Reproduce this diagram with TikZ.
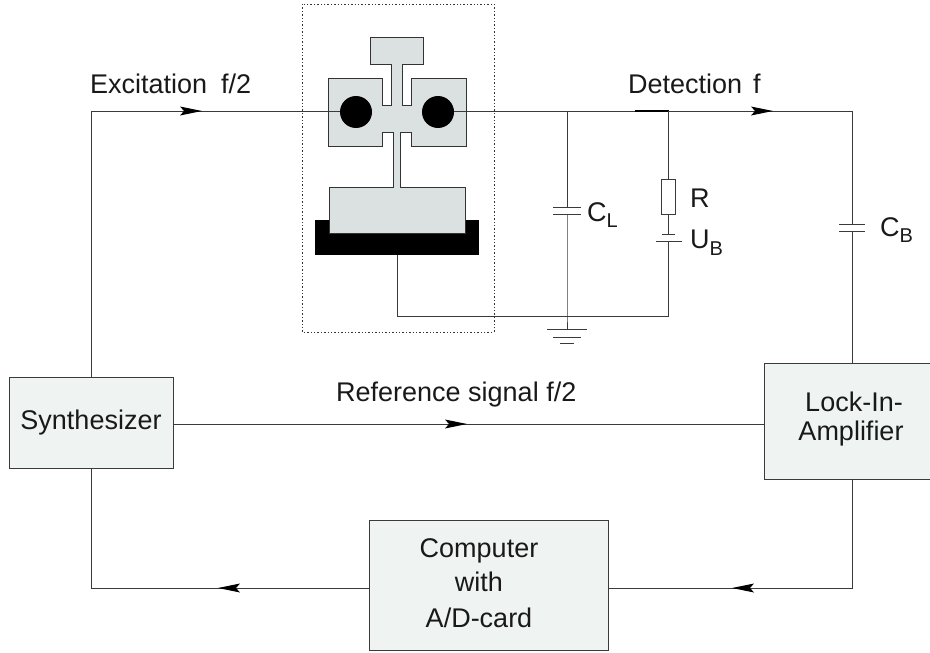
\documentclass[tikz,border=0pt]{standalone}
\usepackage{fontspec}
\setmainfont{Liberation Sans}
\definecolor{wirec}{HTML}{3A3A3A}
\definecolor{boxc}{HTML}{EFF4F3}
\definecolor{devc}{HTML}{DAE1E0}
\tikzset{
  wire/.style={draw=wirec,line width=1pt},
  blockbox/.style={draw=wirec,line width=1pt,fill=boxc,inner sep=0pt},
  lab/.style={inner sep=0pt,font=\fontsize{27}{32}\selectfont,text=black!90},
  headp/.style={fill=black},
}
\begin{document}
\begin{tikzpicture}[x=1pt,y=-1pt]
\useasboundingbox (0,0) rectangle (930,653);
% blocks
\node[blockbox,minimum width=164pt,minimum height=91pt] (syn) at (91,422.5) {};
\node[blockbox,minimum width=166pt,minimum height=116pt] (lock) at (847,421) {};
\node[blockbox,minimum width=239pt,minimum height=130pt] (comp) at (488.5,585) {};
\node[lab] (syntxt) at (91,423) {Synthesizer};
\node[lab] (locka) at (854,402) {Lock-In-};
\node[lab] (lockb) at (851,434) {Amplifier};
\node[lab] (compa) at (479,551) {Computer};
\node[lab] (compb) at (479,582) {with};
\node[lab] (compc) at (479,618) {A/D-card};
% junctions
\coordinate (tl) at (91,111);
\coordinate (tr) at (852,111);
\coordinate (bl) at (91,588);
\coordinate (br) at (852,588);
\coordinate (jc) at (567,111);
\coordinate (jr) at (668.5,111);
\coordinate (gc) at (567,316);
\coordinate (gr) at (668.5,316);
\coordinate (sb) at (397,255);
\coordinate (sc) at (397,316);
\coordinate (gnd) at (567,329);
% wires behind device
\draw[wire] (syn.north -| tl) -- (tl) -- (tr);
\draw[wire] (tr) -- (852,224);
\draw[wire] (852,231) -- (lock.north -| tr);
\draw[wire] (syn.east |- 0,424) -- (lock.west |- 0,424);
\draw[wire] (lock.south -| br) -- (br) -- (comp.east |- br);
\draw[wire] (comp.west |- bl) -- (bl) -- (syn.south -| bl);
% device
\draw[draw=black!80,dash pattern=on 1.4pt off 2pt,line width=0.9pt] (302,4) rectangle (494,332);
\fill[black] (315,220) rectangle (479,255);
\draw[draw=black!80,line width=1pt,fill=devc]
  (370.5,37) -- (423.5,37) -- (423.5,64) -- (402,64) -- (402,105) -- (411,105) -- (411,78) -- (466,78)
  -- (466,146) -- (411,146) -- (411,132) -- (400.5,132) -- (400.5,187) -- (465,187) -- (465,233.5)
  -- (329,233.5) -- (329,187) -- (393,187) -- (393,132) -- (382,132) -- (382,146) -- (328,146)
  -- (328,78) -- (382,78) -- (382,105) -- (391,105) -- (391,64) -- (370.5,64) -- cycle;
\draw[wire] (328,111) -- (340,111);
\draw[wire] (454,111) -- (466,111);
\fill[black] (356,112) circle (16);
\fill[black] (438,112) circle (16);
% lower return
\draw[wire] (sb) -- (sc) -- (gr);
% C_L
\draw[wire] (jc) -- (567,207);
\draw[wire] (567,214) -- (gc) -- (gnd);
\draw[wire] (553,207) -- (581,207);
\draw[wire] (553,214) -- (581,214);
% ground
\draw[wire] (547,329) -- (587,329);
\draw[wire] (553,337) -- (581,337);
\draw[wire] (560,343) -- (574,343);
% R branch
\draw[line width=1.3pt,black] (635,111) -- (jr);
\node[draw=wirec,line width=1pt,minimum width=14pt,minimum height=35pt,inner sep=0pt] (res) at (668.5,196.5) {};
\draw[wire] (jr) -- (res.north);
\draw[wire] (res.south) -- (668.5,234);
\draw[wire] (662,234) -- (675,234);
\draw[wire] (656,241) -- (682,241);
\draw[wire] (668.5,241) -- (gr);
% C_B
\draw[wire] (839,224) -- (865,224);
\draw[wire] (839,231) -- (865,231);
% arrowheads
\path[headp] (202,111) -- (180,106.5) -- (184,111) -- (180,115.5) -- cycle;
\path[headp] (773,111) -- (751,106.5) -- (755,111) -- (751,115.5) -- cycle;
\path[headp] (467,424) -- (445,419.5) -- (449,424) -- (445,428.5) -- cycle;
\path[headp] (732,588) -- (754,583.5) -- (750,588) -- (754,592.5) -- cycle;
\path[headp] (218,588) -- (240,583.5) -- (236,588) -- (240,592.5) -- cycle;
% labels
\node[lab,anchor=west] (l1) at (90,84) {Excitation\hspace{14pt}f/2};
\node[lab,anchor=west] (l2) at (628,84) {Detection\hspace{11pt}f};
\node[lab,anchor=west] (l3) at (336,395) {Reference signal f/2};
\node[lab,anchor=base west] (l4) at (587,221) {C\raisebox{-6pt}{\fontsize{20}{24}\selectfont L}};
\node[lab,anchor=base west] (l5) at (690,207) {R};
\node[lab,anchor=base west] (l6) at (690,248) {U\raisebox{-7pt}{\fontsize{20}{24}\selectfont B}};
\node[lab,anchor=base west] (l7) at (880,236) {C\raisebox{-6pt}{\fontsize{20}{24}\selectfont B}};
\end{tikzpicture}
\end{document}
